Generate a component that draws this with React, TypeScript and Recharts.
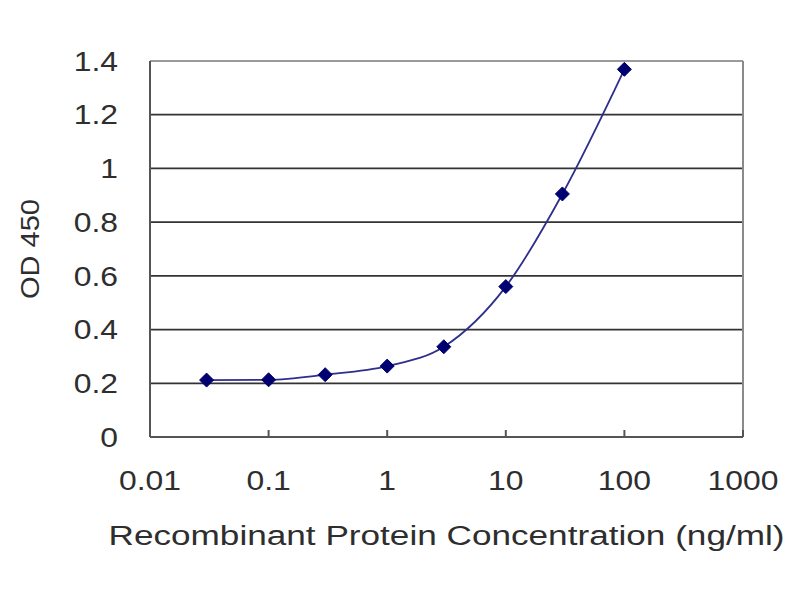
import React from 'react';
import { LineChart, Line, XAxis, YAxis, CartesianGrid, ReferenceLine } from 'recharts';

const concentrations = [0.03, 0.1, 0.3, 1, 3, 10, 30, 100];
const odValues = [0.212, 0.213, 0.232, 0.264, 0.336, 0.56, 0.905, 1.369];
const xTicks = [0.01, 0.1, 1, 10, 100, 1000];
const xTickLabels = ['0.01', '0.1', '1', '10', '100', '1000'];
const yTicks = [0, 0.2, 0.4, 0.6, 0.8, 1, 1.2, 1.4];
const yTickLabels = ['0', '0.2', '0.4', '0.6', '0.8', '1', '1.2', '1.4'];
const gridValues = [0.2, 0.4, 0.6, 0.8, 1, 1.2];
const xTitle = 'Recombinant Protein Concentration (ng/ml)';
const yTitle = 'OD 450';

const data = concentrations.map((c, i) => ({ conc: c, od: odValues[i] }));

const FONT = '"Liberation Sans", Arial, sans-serif';
const TEXT = '#2e2e2e';

const XTick = (props: any) => {
  const { x, y, payload } = props;
  const idx = xTicks.indexOf(payload.value);
  return (
    <text
      x={0}
      y={0}
      dy="0.36em"
      textAnchor="middle"
      fontFamily={FONT}
      fontSize={27}
      fill={TEXT}
      transform={`translate(${x},${y}) scale(1.18,1)`}
    >
      {idx >= 0 ? xTickLabels[idx] : String(payload.value)}
    </text>
  );
};

const YTick = (props: any) => {
  const { x, y, payload } = props;
  const idx = yTicks.indexOf(payload.value);
  return (
    <text
      x={0}
      y={0}
      dy="0.36em"
      textAnchor="end"
      fontFamily={FONT}
      fontSize={27}
      fill={TEXT}
      transform={`translate(${x},${y}) scale(1.18,1)`}
    >
      {idx >= 0 ? yTickLabels[idx] : String(payload.value)}
    </text>
  );
};

const Diamond = (props: any) => {
  const { cx, cy, index } = props;
  if (cx == null || cy == null) return null;
  const r = 7;
  return (
    <path
      key={`d-${index}`}
      d={`M${cx},${cy - r} L${cx + r},${cy} L${cx},${cy + r} L${cx - r},${cy} Z`}
      fill="#000070"
      stroke="#000070"
      strokeWidth={1}
    />
  );
};

const XTitle = (props: any) => {
  const vb = props.viewBox || {};
  const cx = vb.x + vb.width / 2;
  return (
    <text
      x={cx}
      y={vb.y + 108}
      textAnchor="middle"
      fontFamily={FONT}
      fontSize={27}
      fill={TEXT}
      textLength={676}
      lengthAdjust="spacingAndGlyphs"
    >
      {xTitle}
    </text>
  );
};

const YTitle = (props: any) => {
  const vb = props.viewBox || {};
  const cx = vb.x - 20;
  const cy = vb.y + vb.height / 2;
  return (
    <text
      x={cx}
      y={cy}
      dy="0.36em"
      textAnchor="middle"
      fontFamily={FONT}
      fontSize={26}
      fill={TEXT}
      textLength={100}
      lengthAdjust="spacingAndGlyphs"
      transform={`rotate(-90, ${cx}, ${cy})`}
    >
      {yTitle}
    </text>
  );
};

export default function App() {
  return (
    <div style={{ width: 792, height: 592, background: '#fff' }}>
      <LineChart
        width={792}
        height={592}
        data={data}
        margin={{ top: 53, right: 57, left: 42, bottom: 63 }}
      >
        <CartesianGrid
          horizontal
          vertical={false}
          horizontalValues={gridValues}
          stroke="#333333"
          strokeWidth={1.8}
        />
        <ReferenceLine y={1.4} stroke="#9a9a9a" strokeWidth={2} ifOverflow="extendDomain" />
        <ReferenceLine x={1000} stroke="#8a8a8a" strokeWidth={2} />
        <XAxis
          dataKey="conc"
          type="number"
          scale="log"
          domain={[0.01, 1000]}
          ticks={xTicks}
          allowDataOverflow
          height={100}
          axisLine={{ stroke: '#555555', strokeWidth: 2 }}
          tickLine={{ stroke: '#555555', strokeWidth: 2 }}
          tickSize={-7}
          tickMargin={50}
          tick={<XTick />}
          interval={0}
          label={<XTitle />}
        />
        <YAxis
          type="number"
          domain={[0, 1.4]}
          ticks={yTicks}
          width={100}
          axisLine={{ stroke: '#555555', strokeWidth: 2 }}
          tickLine={false}
          tickSize={0}
          tickMargin={32}
          tick={<YTick />}
          interval={0}
          label={<YTitle />}
        />
        <Line
          type="monotone"
          dataKey="od"
          stroke="#2e2e8c"
          strokeWidth={1.8}
          dot={<Diamond />}
          activeDot={false}
          isAnimationActive={false}
        />
      </LineChart>
    </div>
  );
}
